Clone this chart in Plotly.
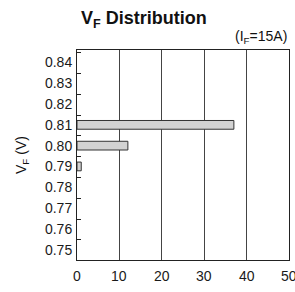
import plotly.graph_objects as go

vf_bins = [0.79, 0.80, 0.81]
counts = [1, 12, 37]
y_ticks = [0.75, 0.76, 0.77, 0.78, 0.79, 0.80, 0.81, 0.82, 0.83, 0.84]
y_labels = ["0.75", "0.76", "0.77", "0.78", "0.79", "0.80", "0.81", "0.82", "0.83", "0.84"]
x_ticks = [0, 10, 20, 30, 40, 50]
x_labels = ["0", "10", "20", "30", "40", "50"]

FONT = "Liberation Sans, Arial, sans-serif"
W, H = 295, 292
L, R, T, B = 77, 6, 50, 32
plot_w = W - L - R
plot_h = H - T - B

fig = go.Figure()
fig.add_trace(go.Bar(
    x=counts, y=vf_bins, orientation="h", width=0.0042,
    marker=dict(color="#d2d2d2", line=dict(color="#333333", width=1)),
    hoverinfo="skip",
))

annotations = [
    dict(text="<b>V<sub>F</sub> Distribution</b>", x=(144 - L) / plot_w, y=(H - B - 19) / plot_h,
         xref="paper", yref="paper", xanchor="center", yanchor="middle",
         showarrow=False, font=dict(size=18, color="#111111")),
    dict(text="(I<sub>F</sub>=15A)", x=1.0, y=1.0, xref="paper", yref="paper",
         xanchor="right", yanchor="bottom", yshift=2, showarrow=False,
         font=dict(size=14, color="#111111")),
    dict(text="V<sub>F</sub> (V)", x=0, y=0.5, xref="paper", yref="paper",
         xanchor="center", yanchor="middle", xshift=-55, textangle=-90,
         showarrow=False, font=dict(size=14, color="#111111")),
    dict(text="Quantity", x=0.5, y=0, xref="paper", yref="paper",
         xanchor="center", yanchor="top", yshift=-28,
         showarrow=False, font=dict(size=13, color="#111111")),
]
for v, lab in zip(x_ticks, x_labels):
    annotations.append(dict(text=lab, x=v, y=0, xref="x", yref="paper",
                            xanchor="center", yanchor="top", yshift=-6,
                            showarrow=False, font=dict(size=14, color="#1a1a1a")))

fig.update_layout(
    width=W, height=H,
    margin=dict(l=L, r=R, t=T, b=B, autoexpand=False),
    paper_bgcolor="white", plot_bgcolor="white",
    showlegend=False,
    font=dict(family=FONT, size=13, color="#1a1a1a"),
    xaxis=dict(
        range=[0, 50], tickvals=x_ticks, ticks="", showticklabels=False,
        showgrid=True, gridcolor="#444444", gridwidth=1,
        showline=True, linecolor="#222222", linewidth=1, mirror=True,
        zeroline=False, automargin=False,
    ),
    yaxis=dict(
        range=[0.745, 0.846], tickvals=y_ticks, ticktext=y_labels, ticks="",
        showgrid=False, showline=True, linecolor="#222222", linewidth=1, mirror=True,
        zeroline=False, ticklabelstandoff=1, automargin=False,
        tickfont=dict(size=14),
        minor=dict(ticks="inside", ticklen=4, tickcolor="#222222", tick0=0.7547, dtick=0.01, showgrid=False),
    ),
    annotations=annotations,
)

fig.write_html("out.html", config={"displayModeBar": False},
               post_script="document.body.style.margin='0';document.body.style.padding='0';")
